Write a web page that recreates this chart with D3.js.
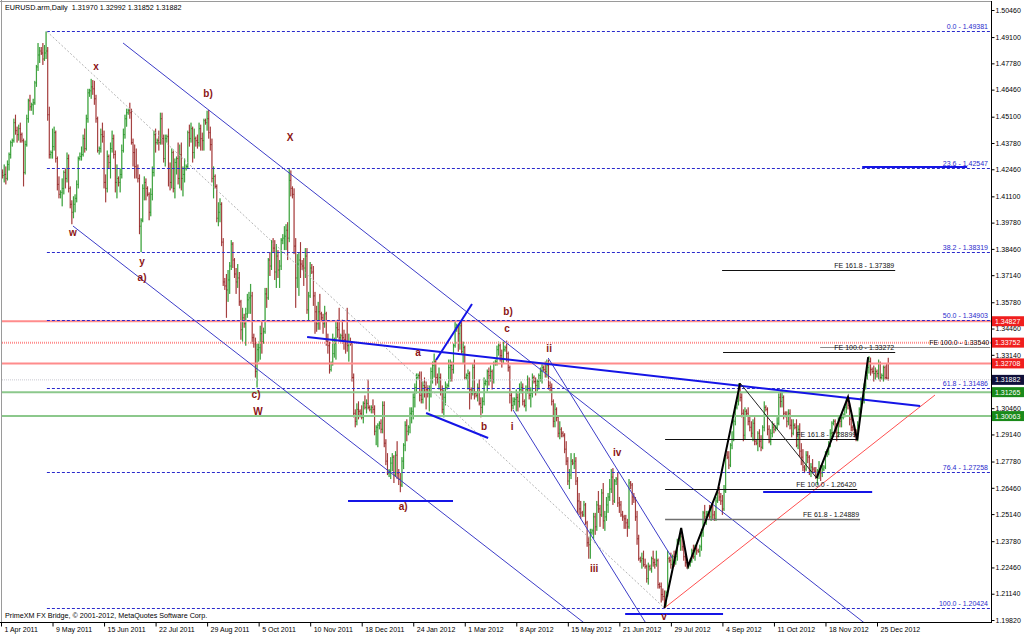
<!DOCTYPE html>
<html><head><meta charset="utf-8">
<script src="https://cdn.jsdelivr.net/npm/d3@7/dist/d3.min.js"></script>
<style>
html,body{margin:0;padding:0;background:#fff;}
svg{display:block;}
text{font-family:"Liberation Sans",Arial,sans-serif;}
</style></head><body>
<svg id="chart" width="1024" height="636"></svg>
<script>
// ---- DATA: daily bars [open, high, low, close] in 1e-4 price units ----
const apr_jun_2011 = [[14120,14250,14080,14230],[14230,14245,14200,14215],[14215,14270,14180,14220],[14220,14260,14170,14200],[14200,14290,14190,14270],[14270,14330,14240,14320],[14320,14390,14300,14380],[14380,14400,14360,14390],[14390,14500,14380,14480],[14480,14520,14420,14440],[14440,14460,14380,14420],[14420,14470,14390,14450],[14450,14480,14380,14420],[14420,14430,14380,14390],[14390,14400,14160,14230],[14230,14390,14220,14370],[14370,14520,14360,14500],[14500,14600,14480,14590],[14590,14620,14540,14560],[14560,14580,14540,14570],[14570,14600,14520,14580],[14580,14690,14570,14680],[14680,14770,14660,14760],[14760,14880,14740,14820],[14820,14860,14780,14840],[14840,14860,14820,14830],[14830,14880,14770,14800],[14800,14870,14790,14830],[14830,14938,14800,14840],[14840,14860,14490,14520],[14520,14560,14300,14320],[14320,14340,14300,14330],[14330,14450,14300,14360],[14360,14460,14340,14430],[14430,14440,14280,14300],[14300,14310,14140,14170],[14170,14210,14100,14120],[14120,14140,14100,14130],[14130,14200,14060,14150],[14150,14240,14120,14230],[14230,14250,14150,14200],[14200,14330,14180,14300],[14300,14320,14130,14150],[14150,14160,14050,14070],[14070,14090,13970,14030],[14030,14110,14000,14070],[14070,14120,14030,14100],[14100,14190,14080,14170],[14170,14310,14150,14300],[14300,14330,14290,14310],[14310,14360,14290,14320],[14320,14420,14310,14400],[14400,14450,14330,14350],[14350,14520,14340,14500],[14500,14650,14480,14630],[14630,14650,14610,14640],[14640,14700,14600,14660],[14660,14694,14620,14650],[14650,14690,14570,14600],[14600,14620,14480,14500],[14500,14510,14330,14340],[14340,14360,14320,14350],[14350,14450,14330,14420],[14420,14480,14380,14410],[14410,14440,14150,14180],[14180,14220,14080,14150],[14150,14340,14130,14310],[14310,14320,14250,14280],[14280,14380,14200,14350],[14350,14440,14330,14400],[14400,14420,14300,14320],[14320,14340,14130,14180],[14180,14270,14100,14200],[14200,14210,14160,14180],[14180,14250,14130,14220],[14220,14370,14200,14340],[14340,14450,14330,14420],[14420,14520,14400,14500],[14500,14550,14460,14530]];
const jul_sep_2011 = [[14530,14550,14520,14540],[14540,14580,14500,14530],[14530,14550,14370,14380],[14380,14400,14260,14330],[14330,14370,14200,14260],[14260,14350,14200,14250],[14250,14270,14180,14200],[14200,14220,13920,13960],[13960,14000,13830,13990],[13990,14170,13980,14150],[14150,14210,14090,14180],[14180,14200,14090,14150],[14150,14160,14110,14120],[14120,14130,13990,14030],[14030,14150,14010,14120],[14120,14260,14090,14230],[14230,14440,14210,14420],[14420,14450,14330,14380],[14380,14400,14370,14390],[14390,14440,14340,14380],[14380,14530,14370,14500],[14500,14530,14370,14400],[14400,14420,14280,14300],[14300,14420,14260,14400],[14400,14420,14380,14410],[14410,14450,14160,14250],[14250,14280,14140,14180],[14180,14350,14150,14330],[14330,14340,14130,14150],[14150,14300,14100,14280],[14280,14310,14220,14300],[14300,14380,14170,14200],[14200,14370,14150,14320],[14320,14380,14140,14200],[14200,14260,14110,14220],[14220,14300,14180,14250],[14250,14270,14240,14260],[14260,14440,14250,14430],[14430,14470,14360,14400],[14400,14480,14380,14450],[14450,14460,14280,14330],[14330,14450,14300,14400],[14400,14410,14360,14390],[14390,14420,14350,14380],[14380,14480,14360,14450],[14450,14470,14340,14400],[14400,14430,14340,14390],[14390,14500,14340,14490],[14490,14500,14470,14480],[14480,14540,14440,14500],[14500,14544,14400,14430],[14430,14460,14340,14370],[14370,14400,14180,14200],[14200,14260,14100,14210],[14210,14220,14150,14160],[14160,14170,13980,14000],[14000,14080,13960,14030],[14030,14100,13980,14070],[14070,14080,13860,13880],[13880,13900,13660,13680],[13680,13700,13640,13660],[13660,13720,13500,13640],[13640,13740,13580,13690],[13690,13780,13620,13760],[13760,13890,13740,13870],[13870,13880,13750,13790],[13790,13800,13700,13720],[13720,13750,13620,13680],[13680,13770,13650,13700],[13700,13730,13560,13580],[13580,13590,13390,13440],[13440,13550,13380,13500],[13500,13520,13450,13470],[13470,13550,13360,13520],[13520,13620,13500,13590],[13590,13630,13520,13600],[13600,13670,13520,13610],[13610,13630,13370,13400]];
const oct_dec_2011 = [[13400,13420,13350,13370],[13370,13400,13200,13230],[13230,13370,13150,13340],[13340,13380,13280,13350],[13350,13460,13290,13420],[13420,13480,13320,13380],[13380,13450,13370,13430],[13430,13650,13420,13620],[13620,13650,13550,13600],[13600,13800,13590,13790],[13790,13830,13710,13760],[13760,13890,13740,13880],[13880,13900,13830,13850],[13850,13890,13690,13730],[13730,13870,13650,13810],[13810,13840,13700,13740],[13740,13790,13650,13760],[13760,13900,13740,13890],[13890,13920,13870,13900],[13900,13960,13840,13910],[13910,13970,13840,13940],[13940,13980,13790,13900],[13900,14247,13880,14190],[14190,14240,14110,14150],[14150,14160,14100,14120],[14120,14150,13820,13860],[13860,13900,13550,13700],[13700,13820,13650,13770],[13770,13830,13610,13790],[13790,13880,13700,13770],[13770,13790,13740,13760],[13760,13800,13660,13750],[13750,13850,13700,13810],[13810,13850,13520,13540],[13540,13630,13480,13610],[13610,13780,13600,13750],[13750,13770,13720,13730],[13730,13760,13560,13610],[13610,13630,13420,13530],[13530,13560,13430,13470],[13470,13580,13440,13530],[13530,13620,13440,13520],[13520,13530,13480,13500],[13500,13520,13420,13470],[13470,13560,13450,13520],[13520,13530,13360,13380],[13380,13420,13320,13360],[13360,13380,13220,13240],[13240,13280,13230,13270],[13270,13420,13260,13320],[13320,13400,13300,13370],[13370,13480,13290,13450],[13450,13490,13400,13440],[13440,13550,13380,13400],[13400,13420,13380,13410],[13410,13490,13370,13400],[13400,13440,13340,13390],[13390,13420,13320,13370],[13370,13550,13330,13360],[13360,13420,13280,13380],[13380,13400,13360,13370],[13370,13380,13180,13200],[13200,13220,13000,13020],[13020,13040,12950,12980],[12980,13070,12960,13040],[13040,13080,12990,13030],[13030,13040,13000,13020],[13020,13060,12990,13000],[13000,13080,12970,13070],[13070,13110,13040,13050],[13050,13090,13020,13070],[13070,13190,13040,13050],[13050,13060,13030,13040],[13040,13060,13020,13050],[13050,13090,13020,13040],[13040,13060,12910,12930],[12930,12960,12860,12950],[12950,12970,12850,12960]];
const jan_mar_2012 = [[12960,12980,12940,12970],[12970,12990,12920,12940],[12940,13080,12920,13060],[13060,13080,12850,12870],[12870,12890,12760,12780],[12780,12820,12710,12720],[12720,12740,12700,12730],[12730,12800,12690,12770],[12770,12820,12730,12800],[12800,12810,12670,12710],[12710,12830,12700,12810],[12810,12880,12690,12720],[12720,12740,12660,12690],[12690,12720,12624,12660],[12660,12800,12650,12780],[12780,12870,12740,12860],[12860,12980,12830,12960],[12960,12990,12880,12930],[12930,12960,12910,12950],[12950,13050,12920,13020],[13020,13050,12970,13030],[13030,13120,12990,13100],[13100,13170,13050,13150],[13150,13220,13120,13200],[13200,13220,13190,13210],[13210,13230,13080,13110],[13110,13230,13070,13090],[13090,13180,13070,13160],[13160,13200,13100,13150],[13150,13180,13040,13140],[13140,13160,13100,13120],[13120,13160,13030,13140],[13140,13250,13100,13230],[13230,13280,13170,13260],[13260,13320,13200,13280],[13280,13290,13160,13200],[13200,13220,13170,13190],[13190,13250,13140,13200],[13200,13220,13110,13140],[13140,13160,13020,13040],[13040,13140,13000,13100],[13100,13180,13060,13150],[13150,13170,13140,13160],[13160,13290,13150,13250],[13250,13290,13180,13260],[13260,13280,13180,13240],[13240,13370,13220,13360],[13360,13480,13350,13450],[13450,13470,13430,13460],[13460,13470,13330,13420],[13420,13480,13340,13460],[13460,13486,13320,13330],[13330,13380,13270,13350],[13350,13360,13190,13200],[13200,13220,13190,13210],[13210,13240,13140,13220],[13220,13230,13040,13140],[13140,13150,13090,13120],[13120,13270,13110,13250],[13250,13290,13090,13120],[13120,13130,13100,13110],[13110,13170,13080,13150],[13150,13190,13060,13070],[13070,13100,13000,13050],[13050,13100,13020,13080],[13080,13200,13060,13170],[13170,13190,13160,13180],[13180,13240,13130,13230],[13230,13250,13160,13210],[13210,13260,13180,13230],[13230,13240,13140,13190],[13190,13280,13170,13270],[13270,13290,13260,13280],[13280,13360,13260,13340],[13340,13380,13310,13360],[13360,13370,13280,13310],[13310,13340,13250,13290],[13290,13380,13270,13340]];
const apr_jun_2012 = [[13340,13360,13330,13350],[13350,13385,13280,13320],[13320,13330,13230,13250],[13250,13260,13070,13110],[13110,13130,13030,13060],[13060,13100,13040,13080],[13080,13100,13060,13090],[13090,13140,13030,13100],[13100,13120,13030,13080],[13080,13170,13050,13140],[13140,13180,13120,13150],[13150,13170,13060,13080],[13080,13090,13050,13060],[13060,13160,13030,13140],[13140,13210,13120,13190],[13190,13200,13090,13110],[13110,13150,13050,13120],[13120,13220,13100,13200],[13200,13210,13170,13180],[13180,13200,13110,13160],[13160,13190,13130,13180],[13180,13220,13140,13210],[13210,13250,13180,13230],[13230,13270,13170,13250],[13250,13260,13230,13240],[13240,13280,13200,13230],[13230,13290,13200,13260],[13260,13290,13140,13160],[13160,13180,13130,13150],[13150,13170,13060,13080],[13080,13090,12950,12980],[12980,13070,12950,13040],[13040,13050,12980,13000],[13000,13010,12900,12920],[12920,12980,12890,12940],[12940,12950,12900,12920],[12920,12930,12900,12910],[12910,12920,12820,12840],[12840,12880,12760,12780],[12780,12800,12660,12680],[12680,12740,12640,12710],[12710,12820,12690,12780],[12780,12790,12760,12770],[12770,12820,12740,12780],[12780,12800,12660,12680],[12680,12700,12520,12580],[12580,12620,12510,12540],[12540,12580,12490,12520],[12520,12530,12500,12510],[12510,12580,12500,12560],[12560,12570,12460,12470],[12470,12480,12350,12370],[12370,12400,12290,12360],[12360,12440,12290,12420],[12420,12440,12410,12430],[12430,12520,12390,12500],[12500,12520,12410,12450],[12450,12580,12430,12560],[12560,12630,12520,12540],[12540,12560,12450,12510],[12510,12640,12500,12620],[12620,12670,12440,12480],[12480,12530,12430,12500],[12500,12600,12480,12560],[12560,12620,12520,12600],[12600,12690,12580,12640],[12640,12740,12620,12700],[12700,12745,12560,12580],[12580,12690,12570,12680],[12680,12700,12660,12690],[12690,12720,12550,12570],[12570,12600,12520,12560],[12560,12580,12500,12510],[12510,12530,12480,12500],[12500,12510,12440,12490],[12490,12510,12440,12470],[12470,12490,12400,12450],[12450,12690,12440,12670]];
const jul_sep_2012 = [[12670,12680,12640,12660],[12660,12670,12560,12600],[12600,12620,12570,12590],[12590,12600,12480,12500],[12500,12530,12360,12390],[12390,12410,12280,12290],[12290,12300,12270,12280],[12280,12320,12240,12290],[12290,12330,12250,12260],[12260,12290,12240,12250],[12250,12260,12170,12190],[12190,12270,12160,12250],[12250,12260,12230,12240],[12240,12300,12220,12290],[12290,12330,12250,12270],[12270,12290,12240,12260],[12260,12330,12250,12280],[12280,12290,12140,12160],[12160,12170,12140,12150],[12150,12170,12070,12110],[12110,12140,12080,12100],[12100,12130,12042,12060],[12060,12130,12050,12120],[12120,12330,12100,12290],[12290,12300,12270,12280],[12280,12320,12240,12260],[12260,12310,12240,12300],[12300,12330,12250,12280],[12280,12330,12260,12300],[12300,12390,12280,12370],[12370,12390,12360,12380],[12380,12440,12330,12400],[12400,12420,12330,12350],[12350,12380,12280,12300],[12300,12320,12250,12270],[12270,12290,12240,12250],[12250,12270,12240,12260],[12260,12290,12250,12280],[12280,12340,12270,12330],[12330,12360,12290,12300],[12300,12360,12280,12340],[12340,12360,12310,12330],[12330,12340,12320,12325],[12325,12360,12300,12350],[12350,12440,12330,12420],[12420,12530,12400,12520],[12520,12560,12480,12500],[12500,12530,12460,12510],[12510,12530,12500,12520],[12520,12560,12490,12500],[12500,12560,12480,12550],[12550,12560,12490,12510],[12510,12530,12480,12490],[12490,12600,12480,12580],[12580,12640,12570,12620],[12620,12650,12580,12600],[12600,12620,12560,12580],[12580,12610,12510,12540],[12540,12660,12530,12630],[12630,12820,12620,12810],[12810,12830,12790,12800],[12800,12830,12740,12760],[12760,12870,12750,12860],[12860,12930,12840,12890],[12890,12990,12880,12980],[12980,13060,12960,13050],[13050,13090,13040,13080],[13080,13170,13060,13130],[13130,13172,13080,13100],[13100,13120,13000,13020],[13020,13040,12880,12910],[12910,13050,12890,13030],[13030,13040,13010,13020],[13020,13050,12960,12980],[12980,13010,12930,12950],[12950,12980,12900,12920],[12920,12990,12880,12970],[12970,13000,12860,12880]];
const oct_dec_2012 = [[12880,12890,12860,12870],[12870,12930,12830,12920],[12920,12940,12850,12880],[12880,12910,12830,12850],[12850,12960,12840,12950],[12950,13080,12930,13050],[13050,13060,13030,13040],[13040,13050,12910,12940],[12940,12960,12870,12880],[12880,12940,12860,12920],[12920,12980,12900,12950],[12950,12970,12920,12940],[12940,12960,12930,12950],[12950,13000,12940,12970],[12970,13120,12960,13100],[13100,13130,13050,13080],[13080,13140,13050,13100],[13100,13110,12990,13020],[13020,13030,13000,13010],[13010,13030,12950,12980],[12980,13040,12960,13020],[13020,13040,12940,12960],[12960,12990,12900,12920],[12920,12990,12910,12960],[12960,12970,12940,12950],[12950,12990,12850,12860],[12860,12960,12840,12940],[12940,12970,12800,12830],[12830,12870,12760,12800],[12800,12840,12730,12750],[12750,12760,12720,12740],[12740,12830,12730,12810],[12810,12830,12770,12800],[12800,12810,12710,12730],[12730,12770,12700,12750],[12750,12790,12720,12740],[12740,12750,12720,12730],[12730,12750,12690,12710],[12710,12740,12660,12720],[12720,12780,12690,12740],[12740,12760,12680,12720],[12720,12760,12700,12740],[12740,12760,12730,12750],[12750,12830,12740,12820],[12820,12840,12800,12830],[12830,12880,12810,12860],[12860,12940,12850,12920],[12920,12980,12900,12970],[12970,12990,12960,12980],[12980,12990,12920,12950],[12950,12970,12880,12920],[12920,13000,12900,12990],[12990,13000,12950,12980],[12980,13010,12950,13000],[13000,13020,12990,13010],[13010,13060,13000,13050],[13050,13100,13020,13080],[13080,13100,13040,13060],[13060,13070,12960,12990],[12990,13010,12930,12950],[12950,12960,12930,12940],[12940,12960,12900,12920],[12920,12940,12880,12900],[12900,12980,12880,12960],[12960,13050,12950,13040],[13040,13100,13020,13080],[13080,13090,13070,13085],[13085,13170,13070,13160],[13160,13230,13140,13210],[13210,13260,13190,13250],[13250,13307,13220,13280],[13280,13300,13210,13240],[13240,13250,13220,13230],[13230,13260,13180,13220],[13220,13250,13190,13230],[13230,13240,13200,13220],[13220,13290,13190,13270],[13270,13280,13180,13200],[13200,13220,13190,13210],[13210,13260,13180,13250],[13250,13260,13190,13200],[13200,13270,13190,13197],[13197,13299,13185,13188]];

// axis labels
const priceTicks = [1.50460,1.49100,1.47780,1.46460,1.45100,1.43780,1.42460,1.41100,1.39780,1.38460,1.37140,1.35780,1.34460,1.33140,1.31820,1.30460,1.29140,1.27780,1.26460,1.25140,1.23780,1.22460,1.21140,1.19820];
const dateLabels = ["1 Apr 2011","9 May 2011","15 Jun 2011","22 Jul 2011","29 Aug 2011","5 Oct 2011","10 Nov 2011","18 Dec 2011","24 Jan 2012","1 Mar 2012","8 Apr 2012","15 May 2012","21 Jun 2012","29 Jul 2012","4 Sep 2012","11 Oct 2012","18 Nov 2012","25 Dec 2012"];
const dateBars = [0,32,64,96,128,160,192,224,256,288,320,352,384,416,448,480,512,544];

// price levels
const fibNames = ["0.0","23.6","38.2","50.0","61.8","76.4","100.0"];
const fibPrices = [1.49381,1.42547,1.38319,1.34903,1.31486,1.27258,1.20424];
const fibAnchorBar = 28.5;
const redLevels = [1.34827,1.33752,1.32708];
const greenLevels = [1.31265,1.30063];
const lastPrice = 1.31882;
const feNames = ["FE 161.8 - 1.37389","FE 100.0 - 1.33272","FE 100.0 - 1.33540","FE 161.8 - 1.28899","FE 100.0 - 1.26420","FE 61.8 - 1.24889"];
const fePrices = [1.37389,1.33272,1.33540,1.28899,1.26420,1.24889];
const feFromBar = [447.8,448.4,508.7,412.4,412.4,412.4];
const feToBar = [555.3,555.3,614.3,531.7,531.7,533.5];

// trend lines [bar1, price1, bar2, price2]
const thinBlueLines = [[75.8,1.48802,546,1.1905],[44.7,1.39611,367,1.19369],[318,1.30369,403.1,1.19318],[339.8,1.32981,416.8,1.22935]];
const thickBlueLines = [[190.1,1.34035,570.8,1.30569],[270.2,1.32880,292.5,1.35693],[264.0,1.30218,302.5,1.28962]];
const blueFlats = [[215.5,280.7,1.25798],[387.6,448.4,1.20122],[473.3,541,1.26250],[534.8,600,1.42570]];
const dottedLine = [28.5,1.49381,412,1.20424];
const redTrend = [412,1.20424,580,1.3112];
const zigzagA = [[412,1.20424],[422.4,1.2444],[426.7,1.2253],[445.3,1.2640],[459,1.3172]];
const zigzagThin = [[459,1.3172],[506.5,1.2695]];
const zigzagB = [[506.5,1.2695],[526,1.3102],[531.7,1.2886],[538.5,1.3303]];

// wave labels [text, bar, price]
const waveText = ["x","b)","X","w","y","a)","c)","W","a)","a","b)","c","ii","b","i","iv","iii","v"];
const waveBar = [59.0,128.6,179.5,44.7,87.6,87.6,158.4,159.6,249.7,259,314.9,314.3,340.4,300,317.4,382.6,368.3,411.8];
const wavePrice = [1.47647,1.46241,1.44031,1.39259,1.37803,1.37000,1.31122,1.30270,1.25497,1.33232,1.35291,1.34437,1.33433,1.29515,1.29515,1.28209,1.22382,1.19971];

const titleText = "EURUSD.arm,Daily  1.31970 1.32992 1.31852 1.31882";
const footText = "PrimeXM FX Bridge, \u00A9 2001-2012, MetaQuotes Software Corp.";

// ---- DRAW ----
const bars = [].concat(apr_jun_2011,jul_sep_2011,oct_dec_2011,jan_mar_2012,apr_jun_2012,jul_sep_2012,oct_dec_2012)
  .map((b,i)=>({i,o:b[0]/1e4,h:b[1]/1e4,l:b[2]/1e4,c:b[3]/1e4}));

const plotR = 991, plotB = 622;
const x = d3.scaleLinear().domain([0,544]).range([1,877]);
const y = d3.scaleLinear().domain([1.19820,1.50460]).range([620,10]);
const svg = d3.select("#chart");
const FONT = '"Liberation Sans",Arial,sans-serif';

svg.append("rect").attr("width",1024).attr("height",636).attr("fill","#fff");
svg.append("defs").append("clipPath").attr("id","clip").append("rect")
  .attr("x",2).attr("y",2).attr("width",plotR-2).attr("height",plotB-2);
const plot = svg.append("g").attr("clip-path","url(#clip)");

// bars
const bg = plot.append("g").selectAll("g").data(bars).join("g");
bg.append("rect").attr("x",d=>x(d.i)-0.65).attr("width",1.3)
  .attr("y",d=>y(d.h)).attr("height",d=>Math.max(1,y(d.l)-y(d.h)))
  .attr("fill",d=>d.c>=d.o?"#a3d9a3":"#e9b0b0");
bg.append("line").attr("x1",d=>x(d.i)).attr("x2",d=>x(d.i))
  .attr("y1",d=>y(d.h)).attr("y2",d=>y(d.l))
  .attr("stroke",d=>d.c>=d.o?"#1f8f1f":"#8c1c1c").attr("stroke-width",0.8);
bg.append("line").attr("x1",d=>x(d.i)-0.8).attr("x2",d=>x(d.i))
  .attr("y1",d=>y(d.o)).attr("y2",d=>y(d.o))
  .attr("stroke",d=>d.c>=d.o?"#1f8f1f":"#8c1c1c").attr("stroke-width",0.8);
bg.append("line").attr("x1",d=>x(d.i)).attr("x2",d=>x(d.i)+0.8)
  .attr("y1",d=>y(d.c)).attr("y2",d=>y(d.c))
  .attr("stroke",d=>d.c>=d.o?"#1f8f1f":"#8c1c1c").attr("stroke-width",0.8);

// horizontal colored levels
plot.append("g").selectAll("line").data(redLevels).join("line")
  .attr("x1",0).attr("x2",plotR).attr("y1",d=>y(d)).attr("y2",d=>y(d))
  .attr("stroke","#ff8c8c").attr("stroke-width",2)
  .attr("stroke-dasharray",(d,i)=>i===1?"1,1":null);
plot.append("g").selectAll("line").data(greenLevels).join("line")
  .attr("x1",0).attr("x2",plotR).attr("y1",d=>y(d)).attr("y2",d=>y(d))
  .attr("stroke","#8cc88c").attr("stroke-width",2);
plot.append("line").attr("x1",0).attr("x2",plotR).attr("y1",y(lastPrice)).attr("y2",y(lastPrice))
  .attr("stroke","#c8c8d0").attr("stroke-width",1).attr("stroke-dasharray","1,1");

// fib dashed levels
plot.append("g").selectAll("line").data(fibPrices).join("line")
  .attr("x1",x(fibAnchorBar)).attr("x2",plotR-1).attr("y1",d=>Math.round(y(d))+0.5).attr("y2",d=>Math.round(y(d))+0.5)
  .attr("stroke","#2a2acc").attr("stroke-width",1).attr("stroke-dasharray","3,2");
plot.append("g").selectAll("text").data(fibPrices).join("text")
  .attr("x",plotR-3).attr("y",d=>y(d)-2).attr("text-anchor","end")
  .attr("font-size",7).attr("fill","#2a2acc").text((d,i)=>fibNames[i]+" - "+d.toFixed(5));

// dotted retracement line
plot.append("line").attr("x1",x(dottedLine[0])).attr("y1",y(dottedLine[1]))
  .attr("x2",x(dottedLine[2])).attr("y2",y(dottedLine[3]))
  .attr("stroke","#b4b4b4").attr("stroke-width",1).attr("stroke-dasharray","2,2");

// thin blue lines
plot.append("g").selectAll("line").data(thinBlueLines).join("line")
  .attr("x1",d=>x(d[0])).attr("y1",d=>y(d[1])).attr("x2",d=>x(d[2])).attr("y2",d=>y(d[3]))
  .attr("stroke","#3c3cc8").attr("stroke-width",1);

// red trend
plot.append("line").attr("x1",x(redTrend[0])).attr("y1",y(redTrend[1]))
  .attr("x2",x(redTrend[2])).attr("y2",y(redTrend[3]))
  .attr("stroke","#ff5050").attr("stroke-width",1);

// FE lines
plot.append("g").selectAll("line").data(fePrices).join("line")
  .attr("x1",(d,i)=>x(feFromBar[i])).attr("x2",(d,i)=>x(feToBar[i]))
  .attr("y1",d=>Math.round(y(d))+0.5).attr("y2",d=>Math.round(y(d))+0.5)
  .attr("stroke",(d,i)=>i===2?"#8a8a8a":(i===5?"#707070":"#111"))
  .attr("stroke-width",(d,i)=>i===5?1.6:1);
plot.append("g").selectAll("text").data(fePrices).join("text")
  .attr("x",(d,i)=>x(feToBar[i])-1).attr("y",d=>y(d)-2).attr("text-anchor","end")
  .attr("font-size",7).attr("fill","#111").text((d,i)=>feNames[i]);

// thick blue lines
plot.append("g").selectAll("line").data(thickBlueLines).join("line")
  .attr("x1",d=>x(d[0])).attr("y1",d=>y(d[1])).attr("x2",d=>x(d[2])).attr("y2",d=>y(d[3]))
  .attr("stroke","#1515e6").attr("stroke-width",2);
plot.append("g").selectAll("line").data(blueFlats).join("line")
  .attr("x1",d=>x(d[0])).attr("x2",d=>x(d[1])).attr("y1",d=>y(d[2])).attr("y2",d=>y(d[2]))
  .attr("stroke","#1515e6").attr("stroke-width",2);

// black zigzags
const ln = d3.line().x(d=>x(d[0])).y(d=>y(d[1]));
plot.append("path").attr("d",ln(zigzagA)).attr("fill","none").attr("stroke","#000").attr("stroke-width",2);
plot.append("path").attr("d",ln(zigzagThin)).attr("fill","none").attr("stroke","#222").attr("stroke-width",1);
plot.append("path").attr("d",ln(zigzagB)).attr("fill","none").attr("stroke","#000").attr("stroke-width",2);

// wave labels
plot.append("g").selectAll("text").data(waveText).join("text")
  .attr("x",(d,i)=>x(waveBar[i])).attr("y",(d,i)=>y(wavePrice[i])+3.5)
  .attr("text-anchor","middle").attr("font-family",'"Liberation Serif","Times New Roman",serif')
  .attr("font-weight","bold").attr("font-size",10).attr("fill","#8b1414").text(d=>d);

// frame
svg.append("line").attr("x1",1.5).attr("x2",1.5).attr("y1",0).attr("y2",plotB).attr("stroke","#9a9a9a");
svg.append("line").attr("x1",0).attr("x2",plotR).attr("y1",1.5).attr("y2",1.5).attr("stroke","#9a9a9a");
svg.append("line").attr("x1",plotR+0.5).attr("x2",plotR+0.5).attr("y1",1).attr("y2",plotB+1).attr("stroke","#000");
svg.append("line").attr("x1",0).attr("x2",plotR).attr("y1",plotB+0.5).attr("y2",plotB+0.5).attr("stroke","#000");

// right axis
const yAxis = d3.axisRight(y).tickValues(priceTicks).tickFormat(d3.format(".5f")).tickSize(3).tickPadding(1);
const ya = svg.append("g").attr("transform",`translate(${plotR+0.5},0)`).call(yAxis);
ya.select(".domain").remove();
ya.attr("font-family",FONT).attr("font-size",7);
ya.selectAll("line").attr("stroke","#000");

// bottom axis
const xAxis = d3.axisBottom(x).tickValues(dateBars).tickFormat((d,i)=>dateLabels[i]).tickSize(4);
const xa = svg.append("g").attr("transform",`translate(0,${plotB+0.5})`).call(xAxis);
xa.select(".domain").remove();
xa.attr("font-family",FONT).attr("font-size",7);
xa.selectAll("text").attr("text-anchor","start").attr("x",3).attr("y",5);
xa.selectAll("line").attr("stroke","#000");

// price boxes on the right axis
function box(p, fill){
  const g = svg.append("g");
  g.append("rect").attr("x",plotR+1).attr("y",y(p)-5).attr("width",1024-plotR-1).attr("height",10).attr("fill",fill);
  g.append("text").attr("x",plotR+4).attr("y",y(p)+2.6).attr("font-size",7).attr("fill","#fff").text(p.toFixed(5));
}
redLevels.forEach(p=>box(p,"#f01e1e"));
greenLevels.forEach(p=>box(p,"#1a8a1a"));
box(lastPrice,"#10103a");

// texts
svg.append("text").attr("x",5).attr("y",10).attr("font-size",7.2).attr("fill","#000").attr("xml:space","preserve").text(titleText);
svg.append("text").attr("x",5).attr("y",618).attr("font-size",7.2).attr("fill","#000").text(footText);
</script>
</body></html>
